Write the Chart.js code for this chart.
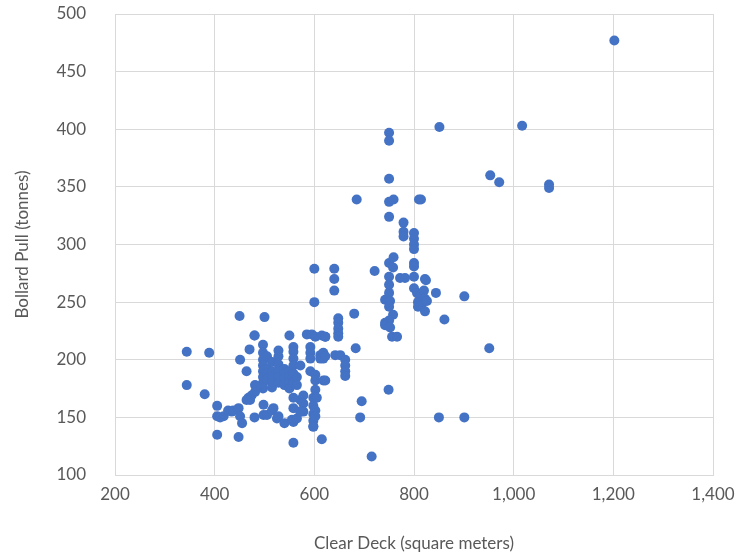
<!DOCTYPE html>
<html lang="en">

<head>
    <meta charset="UTF-8">
    <title>Bollard Pull vs Clear Deck</title>
    <style>
        body { margin: 0; background: #fff; }
        #wrap { width: 756px; height: 558px; }
    </style>
</head>

<body>
    <div id="wrap">
        <canvas id="myChart" width="756" height="558"></canvas>
    </div>
    <script src="https://cdn.jsdelivr.net/npm/chart.js"></script>
    <script>
        // clear deck (square meters)
        const deckArea = [
            344, 389, 344, 380, 405, 405, 411, 418, 405, 448, 434, 427, 437, 448, 451, 455, 451, 464, 450, 500,
            480, 470, 480, 550, 585, 595, 602, 615, 622,
            497, 497, 497, 497, 497, 497, 497, 497,
            505, 505, 505, 505,
            515, 515, 515, 515, 515,
            528, 528, 528, 528, 528, 528,
            540, 540, 540, 540,
            550, 550, 550, 550,
            558, 558, 558, 558, 558, 558,
            565, 565, 572, 572, 572, 578, 578, 578,
            592, 592, 592, 592,
            598, 598, 598, 598, 598,
            602, 602, 602, 612, 612, 618, 618, 618,
            468, 474, 481, 485, 481, 471, 464, 480, 498, 518, 498, 505, 515, 525, 528, 540, 555, 558, 558, 558,
            565, 572, 558, 615, 605, 602, 602, 598,
            600, 600, 640, 640, 640, 648, 648, 648, 648, 648, 622, 622, 622, 642, 652, 662, 662, 662, 662,
            680, 683, 685, 692, 695, 715, 721,
            742, 742, 750, 750, 750, 750, 759, 750, 750, 759, 758, 750, 750, 750, 752, 750, 758, 750, 742, 752,
            756, 766, 749, 772, 782, 779, 779, 779,
            800, 800, 800, 800, 800, 800, 800,
            800, 806, 812, 820, 822, 808, 815, 826, 808, 822, 844, 822, 824,
            810, 814, 861, 901, 951, 850, 901, 851, 1017, 953, 971, 1071, 1071, 1202
        ];

        // bollard pull (tonnes)
        const bollardPull = [
            207, 206, 178, 170, 160, 151, 150, 151, 135, 133, 155, 156, 156, 158, 151, 145, 200, 190, 238, 237,
            221, 209, 221, 221, 222, 222, 220, 221, 220,
            213, 206, 200, 195, 190, 185, 180, 175,
            203, 192, 188, 183,
            198, 190, 185, 180, 176,
            208, 203, 196, 190, 185, 180,
            192, 188, 184, 178,
            190, 185, 180, 175,
            211, 207, 201, 195, 188, 180,
            185, 178, 195, 165, 155, 169, 162, 155,
            211, 206, 201, 190,
            167, 160, 153, 147, 142,
            187, 182, 174, 204, 201, 206, 201, 182,
            167, 169, 178, 177, 172, 165, 165, 150, 161, 158, 152, 152, 156, 149, 151, 145, 148, 158, 167, 146,
            149, 155, 128, 131, 167, 156, 151, 142,
            279, 250, 279, 270, 260, 236, 232, 227, 223, 220, 220, 203, 182, 204, 204, 200, 195, 190, 186,
            240, 210, 339, 150, 164, 116, 277,
            252, 232, 397, 390, 357, 337, 339, 324, 284, 289, 280, 272, 265, 258, 251, 246, 239, 234, 230, 228,
            220, 220, 174, 271, 271, 319, 311, 307,
            310, 305, 300, 296, 284, 281, 272,
            262, 258, 255, 260, 253, 250, 248, 251, 246, 242, 258, 270, 269,
            339, 339, 235, 255, 210, 150, 150, 402, 403, 360, 354, 352, 349, 477
        ];

        // axis ticks
        const xTicks = [200, 400, 600, 800, 1000, 1200, 1400];
        const yTicks = [100, 150, 200, 250, 300, 350, 400, 450, 500];

        const points = deckArea.map((x, i) => ({ x: x, y: bollardPull[i] }));

        const gray = '#595959';
        const gridColor = '#d9d9d9';
        const fontName = 'Lato, "Open Sans", sans-serif';

        const ctx = document.getElementById('myChart');

        new Chart(ctx, {
            type: 'scatter',
            data: {
                datasets: [{
                    label: 'Bollard Pull',
                    data: points,
                    backgroundColor: '#4472c4',
                    borderColor: '#4472c4',
                    pointRadius: 5,
                    pointBorderWidth: 0
                }]
            },
            options: {
                responsive: false,
                animation: false,
                devicePixelRatio: 1,
                layout: {
                    padding: { top: 14, right: 43, left: 0, bottom: 0 }
                },
                plugins: {
                    legend: { display: false },
                    tooltip: { enabled: false }
                },
                scales: {
                    x: {
                        type: 'linear',
                        min: xTicks[0],
                        max: xTicks[xTicks.length - 1],
                        afterBuildTicks: function (scale) {
                            scale.ticks = xTicks.map(v => ({ value: v }));
                        },
                        afterFit: function (scale) {
                            scale.height = 83;
                        },
                        grid: { color: gridColor, drawTicks: false },
                        border: { color: gridColor },
                        ticks: {
                            padding: 9,
                            color: gray,
                            font: { family: fontName, size: 17 },
                            callback: function (v) { return v.toLocaleString('en-US'); }
                        },
                        title: {
                            display: true,
                            text: 'Clear Deck (square meters)',
                            color: gray,
                            font: { family: fontName, size: 17 },
                            padding: { top: 0, bottom: 4 }
                        }
                    },
                    y: {
                        type: 'linear',
                        min: yTicks[0],
                        max: yTicks[yTicks.length - 1],
                        afterBuildTicks: function (scale) {
                            scale.ticks = yTicks.map(v => ({ value: v }));
                        },
                        afterFit: function (scale) {
                            scale.width = 115;
                            // tick padding should not push the plot down
                            scale.paddingTop = 0;
                            scale.paddingBottom = 0;
                        },
                        grid: { color: gridColor, drawTicks: false },
                        border: { color: gridColor },
                        ticks: {
                            padding: 29,
                            color: gray,
                            font: { family: fontName, size: 17 }
                        },
                        title: {
                            display: true,
                            text: 'Bollard Pull (tonnes)',
                            color: gray,
                            font: { family: fontName, size: 17 },
                            padding: { top: 12, bottom: 0 }
                        }
                    }
                }
            }
        });
    </script>
</body>

</html>
